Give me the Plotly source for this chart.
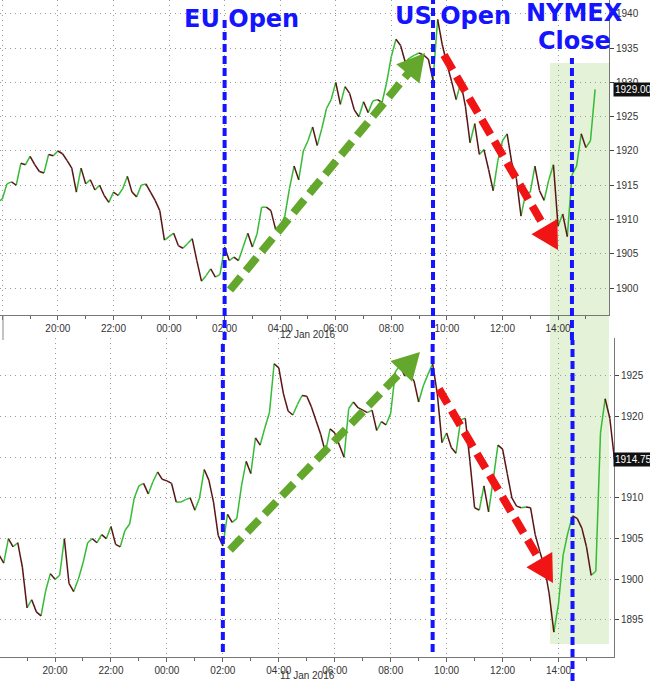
import plotly.graph_objects as go
import pandas as pd

# ---------------- data (10-minute closes) ----------------
top_start = "2016-01-11 18:00"
top_first_open = 1912.5
top_close = [
    1913, 1915.2, 1915.5, 1915, 1918.2, 1918, 1919.2, 1918, 1917, 1916.8, 1919.5, 1919.3,
    1920, 1919.6, 1918.6, 1917.5, 1914, 1917.5, 1915.2, 1915.8, 1914.3, 1915, 1913.5, 1912.5,
    1914, 1913.5, 1914.5, 1916.3, 1914, 1913.3, 1915, 1915.2, 1914, 1912.8, 1911.3, 1907,
    1907.5, 1908, 1906.2, 1905.8, 1906.5, 1907.2, 1904, 1901, 1901.8, 1902.8, 1901.6, 1902,
    1906, 1904, 1904.5, 1904, 1906, 1908, 1906, 1907.9, 1911.8, 1911.8, 1911.3, 1908.6,
    1909, 1910.5, 1914.5, 1917.8, 1915.8, 1920, 1921.5, 1923.5, 1920.8, 1923.3, 1926.2, 1927.5,
    1930, 1926.8, 1929.4, 1928.4, 1926, 1925, 1927.2, 1925.6, 1927.3, 1927.5, 1927.1, 1930,
    1933.8, 1936.3, 1935.4, 1933, 1933.6, 1934, 1934.3, 1934, 1933.4, 1930.3, 1939.2, 1935.5,
    1932.7, 1930.2, 1927.5, 1930, 1926.5, 1921.2, 1924, 1919.5, 1920.2, 1917.3, 1914.2, 1918.6,
    1921.5, 1922.5, 1918.3, 1916, 1910.5, 1913.8, 1914, 1917.8, 1914.2, 1912.8, 1915.8, 1918,
    1909, 1910.8, 1907.5, 1916.5, 1917.8, 1922.5, 1920.5, 1921.5, 1929,
]

bot_start = "2016-01-10 18:00"
bot_first_open = 1910
bot_close = [
    1903, 1902, 1905, 1904, 1904.5, 1901.5, 1896.5, 1897.5, 1896, 1895.5, 1898.6, 1900.7,
    1900, 1900.5, 1905, 1899.5, 1898.5, 1900, 1902, 1904.5, 1905, 1904.5, 1905.5, 1905,
    1906.5, 1904.3, 1904, 1906, 1906.8, 1910, 1911.5, 1911.8, 1910.5, 1912, 1913.2, 1912.3,
    1912.1, 1911.8, 1909.5, 1909.5, 1909.8, 1910, 1908.5, 1910, 1913.5, 1912.2, 1909.5, 1905.4,
    1904.1, 1908, 1907, 1907.5, 1911.5, 1914.5, 1913, 1917.4, 1916.5, 1918.6, 1920.5, 1926.5,
    1926, 1922.8, 1920.7, 1920.2, 1921.5, 1922.6, 1922.5, 1921.2, 1919.5, 1917.8, 1915.6, 1918.5,
    1918, 1916.5, 1915, 1921, 1921.8, 1921.1, 1920.8, 1920.5, 1920.8, 1918.3, 1919.4, 1919,
    1920.4, 1925.5, 1926.3, 1925, 1925.2, 1924.4, 1921.8, 1923.8, 1925.2, 1926.5, 1922.8, 1916.8,
    1918, 1916.2, 1915.5, 1919.6, 1919.8, 1914.5, 1908.8, 1908.5, 1911.5, 1908.3, 1912.3, 1916.5,
    1916, 1913, 1910, 1909, 1908.8, 1908.9, 1908.8, 1905.5, 1903.4, 1901.5, 1898.2, 1893.5,
    1897, 1903, 1905.7, 1907.8, 1907.5, 1906.3, 1904, 1900.5, 1901, 1918, 1922.2, 1919.8, 1914.75,
]

top_ticks = [1900, 1905, 1910, 1915, 1920, 1925, 1930, 1935, 1940]
bot_ticks = [1895, 1900, 1905, 1910, 1915, 1920, 1925]
top_last_label = "1929.00"
bot_last_label = "1914.75"
top_date_label = "12 Jan 2016"
bot_date_label = "11 Jan 2016"
event_labels = ["EU Open", "US Open", "NYMEX", "Close"]

# ---------------- helpers ----------------
W, H = 650, 681
def px(x):
    return x / W
def py(y):
    return 1 - y / H

UP = "#36bb36"
DOWN = "#5a1515"

def bar_segments(start, first_open, closes):
    """Each 10-min bar drawn as a segment from its open (previous close) to its close,
    coloured green when the bar rose and dark red when it fell."""
    t = list(pd.date_range(start, periods=len(closes), freq="10min"))
    step = pd.Timedelta(minutes=10)
    opens = [first_open] + closes[:-1]
    up_x, up_y, dn_x, dn_y = [], [], [], []
    for ti, o, c in zip(t, opens, closes):
        xs = [ti - step, ti, None]
        ys = [o, c, None]
        if c >= o:
            up_x += xs; up_y += ys
        else:
            dn_x += xs; dn_y += ys
    return up_x, up_y, dn_x, dn_y

fig = go.Figure()
for (start, fo, cl, xa, ya) in [(top_start, top_first_open, top_close, "x", "y"),
                                (bot_start, bot_first_open, bot_close, "x2", "y2")]:
    ux, uy, dx, dy = bar_segments(start, fo, cl)
    fig.add_trace(go.Scatter(x=ux, y=uy, mode="lines", xaxis=xa, yaxis=ya,
                             line=dict(color=UP, width=1.5), hoverinfo="skip", showlegend=False))
    fig.add_trace(go.Scatter(x=dx, y=dy, mode="lines", xaxis=xa, yaxis=ya,
                             line=dict(color=DOWN, width=1.5), hoverinfo="skip", showlegend=False))

tickfont = dict(family="Liberation Sans, Arial, sans-serif", size=10, color="#333")
grid = dict(showgrid=True, gridcolor="#9a9a9a", gridwidth=1, griddash="1px,4px", zeroline=False)

def xaxis(rng, dom, anchor):
    return dict(type="date", range=rng, domain=dom, anchor=anchor, automargin=False,
                dtick=7200000, tick0="2016-01-10 00:00", tickformat="%H:%M",
                ticks="outside", ticklen=4, tickcolor="#666", showline=True,
                linecolor="#777", linewidth=1, tickfont=tickfont,
                minor=dict(dtick=3600000, ticks="outside", ticklen=3, tickcolor="#666", showgrid=False),
                fixedrange=True, **grid)

def yaxis(rng, dom, anchor, ticks):
    return dict(range=rng, domain=dom, anchor=anchor, side="right", automargin=False,
                tickvals=ticks, ticks="outside", ticklen=4, tickcolor="#444",
                showline=True, linecolor="#777", linewidth=1, tickfont=tickfont,
                fixedrange=True, **grid)

fig.update_layout(
    width=W, height=H, margin=dict(l=0, r=0, t=0, b=0, autoexpand=False),
    paper_bgcolor="white", plot_bgcolor="white", showlegend=False,
    xaxis=xaxis(["2016-01-11 17:55", "2016-01-12 15:50"], [0, 609 / W], "y"),
    yaxis=yaxis([1896.06, 1942.04], [py(315), 1], "x", top_ticks),
    xaxis2=xaxis(["2016-01-10 18:02", "2016-01-11 15:59"], [0, 614 / W], "y2"),
    yaxis2=yaxis([1890.45, 1929.67], [py(657), py(338)], "x2", bot_ticks),
)

shapes = []
# shaded NYMEX-close region
shapes.append(dict(type="rect", xref="paper", yref="paper", x0=px(550), x1=px(609),
                   y0=py(644), y1=py(63), fillcolor="rgba(190,225,160,0.42)",
                   line=dict(width=0), layer="below"))
# small separator at left
shapes.append(dict(type="line", xref="paper", yref="paper", x0=px(3), x1=px(3),
                   y0=py(315), y1=py(340), line=dict(color="#888", width=1)))

BLUE = "#1414ff"
blue_line = dict(color=BLUE, width=4, dash="8px,4px")
events = [
    ("2016-01-12 02:00", "2016-01-11 02:00", 18, 652),
    ("2016-01-12 09:30", "2016-01-11 09:30", 0, 652),
    ("2016-01-12 14:30", "2016-01-11 14:30", 58, 681),
]
for tx, bx, ytop, ybot in events:
    shapes.append(dict(type="line", xref="x", yref="paper", x0=tx, x1=tx,
                       y0=py(340), y1=py(ytop), line=blue_line, layer="above"))
    shapes.append(dict(type="line", xref="x2", yref="paper", x0=bx, x1=bx,
                       y0=py(ybot), y1=py(340), line=blue_line, layer="above"))

def arrow(sx, sy, tx, ty, color):
    dx, dy = tx - sx, ty - sy
    n = (dx * dx + dy * dy) ** 0.5
    ux, uy = dx / n, dy / n
    L, Wd = 27, 15
    bx, by = tx - L * ux, ty - L * uy
    nx, ny = -uy, ux
    out = [dict(type="line", xref="paper", yref="paper", x0=px(sx), y0=py(sy),
                x1=px(bx + 4 * ux), y1=py(by + 4 * uy),
                line=dict(color=color, width=8, dash="17px,8px"), layer="above")]
    pts = [(tx, ty), (bx + Wd * nx, by + Wd * ny), (bx - Wd * nx, by - Wd * ny)]
    path = "M " + " L ".join(f"{px(a):.5f},{py(b):.5f}" for a, b in pts) + " Z"
    out.append(dict(type="path", xref="paper", yref="paper", path=path,
                    fillcolor=color, line=dict(width=0), layer="above"))
    return out

GREEN = "#63a82c"
RED = "#f01414"
shapes += arrow(230, 290, 425, 53, GREEN)
shapes += arrow(444, 55, 558, 250, RED)
shapes += arrow(230, 550, 420, 352, GREEN)
shapes += arrow(439, 389, 553, 583, RED)
fig.update_layout(shapes=shapes)

title_font = dict(family="DejaVu Sans, Verdana, sans-serif", size=24, color=BLUE)
annotations = []
for text, cx, cy in [(event_labels[0], 242, 19), (event_labels[1], 453, 16),
                     (event_labels[2], 574, 13), (event_labels[3], 574, 41)]:
    annotations.append(dict(xref="paper", yref="paper", x=px(cx), y=py(cy), showarrow=False,
                            xanchor="center", yanchor="middle", font=title_font,
                            text="<b>" + text + "</b>"))
# last price boxes
for yref, val, lab in [("y", 1929.0, top_last_label), ("y2", 1914.75, bot_last_label)]:
    annotations.append(dict(xref="paper", yref=yref, x=px(613), y=val, xanchor="left",
                            yanchor="middle", showarrow=False, text=lab,
                            bgcolor="#111", borderpad=1,
                            font=dict(family="Liberation Sans, Arial", size=10, color="white")))
# date labels
annotations.append(dict(xref="paper", yref="paper", x=px(307), y=py(334), showarrow=False,
                        xanchor="center", yanchor="middle", text=top_date_label, font=tickfont))
annotations.append(dict(xref="paper", yref="paper", x=px(307), y=py(675), showarrow=False,
                        xanchor="center", yanchor="middle", text=bot_date_label, font=tickfont))
fig.update_layout(annotations=annotations)

fig.write_html("out.html", config={"displayModeBar": False},
               post_script="document.body.style.margin='0';document.body.style.overflow='hidden';")
